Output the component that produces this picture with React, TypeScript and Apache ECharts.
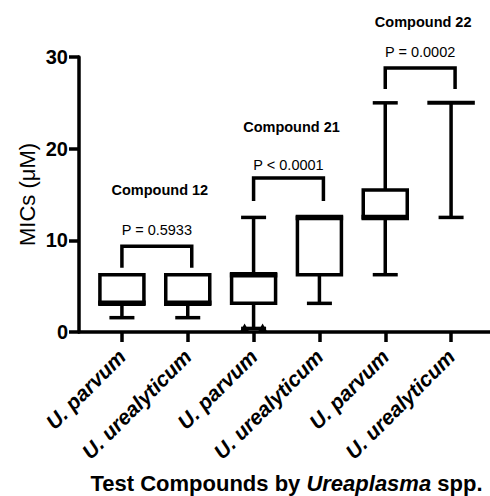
import { useEffect, useRef } from "react";
import * as echarts from "echarts";

const categories = ["U. parvum", "U. urealyticum", "U. parvum", "U. urealyticum", "U. parvum", "U. urealyticum"];
const whiskerMin = [1.5625, 1.5625, 0.39, 3.125, 6.25, 12.5];
const quartile1 = [3.125, 3.125, 3.125, 6.25, 12.5, 25];
const medians = [3.125, 3.125, 6.25, 12.5, 12.5, 25];
const quartile3 = [6.25, 6.25, 6.25, 12.5, 15.5, 25];
const whiskerMax = [6.25, 6.25, 12.5, 12.5, 25, 25];
const lowOutliers: (number | null)[] = [null, null, 0.39, null, null, null];

const compoundNames = ["Compound 12", "Compound 21", "Compound 22"];
const pValueLabels = ["P = 0.5933", "P < 0.0001", "P = 0.0002"];
const bracketLeft = [0, 2, 4];
const bracketRight = [1, 3, 5];
const bracketTop = [9.35, 16.8, 28.8];
const bracketLegEnd = [7.0, 14.3, 26.5];
const pLabelY = [11.1, 18.2, 30.6];
const compoundLabelY = [15.5, 22.4, 33.8];

const yMin = 0;
const yMax = 30;
const yStep = 10;

const FONT = "'Liberation Sans', Arial, Helvetica, sans-serif";

export default function App() {
  const ref = useRef<HTMLDivElement>(null);

  useEffect(() => {
    if (!ref.current) return;
    const chart = echarts.init(ref.current, null, { renderer: "svg" });

    const boxData = categories.map((_, i) => [
      i,
      whiskerMin[i],
      quartile1[i],
      medians[i],
      quartile3[i],
      whiskerMax[i],
      lowOutliers[i] == null ? -1 : (lowOutliers[i] as number),
    ]);

    const bracketData = compoundNames.map((_, k) => [
      bracketLeft[k],
      bracketRight[k],
      bracketTop[k],
      bracketLegEnd[k],
      pLabelY[k],
      compoundLabelY[k],
    ]);

    const option: any = {
      animation: false,
      backgroundColor: "#fff",
      grid: [
        { left: 89, right: 6, top: 57, bottom: 164, containLabel: false, outerBoundsMode: "none" },
        { left: 79, right: 0, top: 57, bottom: 164, containLabel: false, outerBoundsMode: "none" },
      ],
      xAxis: [
        {
          type: "category",
          gridIndex: 0,
          data: categories,
          boundaryGap: true,
          axisLine: { show: false },
          axisTick: {
            show: true,
            alignWithLabel: true,
            interval: 0,
            length: 10,
            lineStyle: { color: "#000", width: 3.5 },
          },
          axisLabel: {
            interval: 0,
            rotate: 45,
            margin: 21,
            hideOverlap: false,
            color: "#000",
            fontFamily: FONT,
            fontSize: 21,
            fontWeight: "bold",
            fontStyle: "italic",
          },
          splitLine: { show: false },
          name: "{a|Test Compounds by }{b|Ureaplasma}{a| spp.}",
          nameLocation: "middle",
          nameGap: 140,
          nameMoveOverlap: false,
          nameTextStyle: {
            rich: {
              a: { fontFamily: FONT, fontSize: 22, fontWeight: "bold", color: "#000" },
              b: { fontFamily: FONT, fontSize: 22, fontWeight: "bold", fontStyle: "italic", color: "#000" },
            },
          },
        },
        {
          type: "value",
          gridIndex: 1,
          min: 0,
          max: 1,
          axisLine: { show: true, onZero: false, lineStyle: { color: "#000", width: 3.5 } },
          axisTick: { show: false },
          axisLabel: { show: false },
          splitLine: { show: false },
        },
      ],
      yAxis: [
        {
          type: "value",
          gridIndex: 0,
          min: yMin,
          max: yMax,
          interval: yStep,
          offset: 10,
          axisLine: { show: true, lineStyle: { color: "#000", width: 3.5 } },
          axisTick: { show: true, length: 10, lineStyle: { color: "#000", width: 3.5 } },
          axisLabel: {
            margin: 11,
            color: "#000",
            fontFamily: FONT,
            fontSize: 20,
            fontWeight: "bold",
          },
          splitLine: { show: false },
          name: "MICs (\u03bcM)",
          nameLocation: "middle",
          nameGap: 41,
          nameMoveOverlap: false,
          nameTextStyle: { fontFamily: FONT, fontSize: 22, color: "#000" },
        },
        {
          type: "value",
          gridIndex: 1,
          min: yMin,
          max: yMax,
          show: false,
        },
      ],
      series: [
        {
          type: "custom",
          xAxisIndex: 0,
          yAxisIndex: 0,
          clip: false,
          encode: { x: 0, y: [1, 2, 3, 4, 5] },
          data: boxData,
          renderItem: (params: any, api: any) => {
            const i = api.value(0);
            const [cx, yMn] = api.coord([i, api.value(1)]);
            const yQ1 = api.coord([i, api.value(2)])[1];
            const yMed = api.coord([i, api.value(3)])[1];
            const yQ3 = api.coord([i, api.value(4)])[1];
            const yMx = api.coord([i, api.value(5)])[1];
            const outlier = api.value(6);
            const hw = 22;
            const cw = 12.5;
            const st = { stroke: "#000", lineWidth: 3.5, fill: null };
            const children: any[] = [];
            if (yMx < yQ3 - 0.5) {
              children.push({ type: "line", shape: { x1: cx, y1: yQ3, x2: cx, y2: yMx }, style: st });
              children.push({ type: "line", shape: { x1: cx - cw, y1: yMx, x2: cx + cw, y2: yMx }, style: st });
            }
            if (yMn > yQ1 + 0.5) {
              children.push({ type: "line", shape: { x1: cx, y1: yQ1, x2: cx, y2: yMn }, style: st });
              children.push({ type: "line", shape: { x1: cx - cw, y1: yMn, x2: cx + cw, y2: yMn }, style: st });
            }
            if (outlier >= 0) {
              const yo = api.coord([i, outlier])[1];
              [-9, 9].forEach((dx) => {
                children.push({
                  type: "polygon",
                  shape: { points: [[cx + dx - 4.5, yo + 3], [cx + dx + 4.5, yo + 3], [cx + dx, yo - 5]] },
                  style: { fill: "#000" },
                });
              });
            }
            const boxH = yQ1 - yQ3;
            if (boxH > 0.5) {
              children.push({
                type: "rect",
                shape: { x: cx - hw, y: yQ3, width: 2 * hw, height: boxH },
                style: { fill: "#fff", stroke: "#000", lineWidth: 3.5 },
              });
              children.push({
                type: "line",
                shape: { x1: cx - hw - 1.75, y1: yMed, x2: cx + hw + 1.75, y2: yMed },
                style: { stroke: "#000", lineWidth: 5.5 },
              });
            } else {
              children.push({
                type: "line",
                shape: { x1: cx - hw - 1.75, y1: yMed, x2: cx + hw + 1.75, y2: yMed },
                style: { stroke: "#000", lineWidth: 4 },
              });
            }
            return { type: "group", children };
          },
        },
        {
          type: "custom",
          xAxisIndex: 0,
          yAxisIndex: 0,
          clip: false,
          encode: { x: [0, 1], y: [2, 3, 4, 5] },
          data: bracketData,
          renderItem: (params: any, api: any) => {
            const k = params.dataIndex;
            const [xl, yt] = api.coord([api.value(0), api.value(2)]);
            const [xr0, yb] = api.coord([api.value(1), api.value(3)]);
            const yp = api.coord([api.value(0), api.value(4)])[1];
            const yc = api.coord([api.value(0), api.value(5)])[1];
            const xr = xr0 + 4;
            const xm = (xl + xr) / 2;
            return {
              type: "group",
              children: [
                {
                  type: "polyline",
                  shape: { points: [[xl, yb], [xl, yt], [xr, yt], [xr, yb]] },
                  style: { stroke: "#000", lineWidth: 3.5, fill: null, lineJoin: "miter" },
                },
                {
                  type: "text",
                  x: xm,
                  y: yp,
                  style: {
                    text: pValueLabels[k],
                    align: "center",
                    verticalAlign: "middle",
                    fontFamily: FONT,
                    fontSize: 14.5,
                    fill: "#000",
                  },
                },
                {
                  type: "text",
                  x: xm + 3,
                  y: yc,
                  style: {
                    text: compoundNames[k],
                    align: "center",
                    verticalAlign: "middle",
                    fontFamily: FONT,
                    fontSize: 14.5,
                    fontWeight: "bold",
                    fill: "#000",
                  },
                },
              ],
            };
          },
        },
      ],
    };

    chart.setOption(option);
    return () => chart.dispose();
  }, []);

  return (
    <div
      ref={ref}
      style={{ position: "fixed", left: 0, top: 0, width: 490, height: 496, background: "#fff" }}
    />
  );
}
